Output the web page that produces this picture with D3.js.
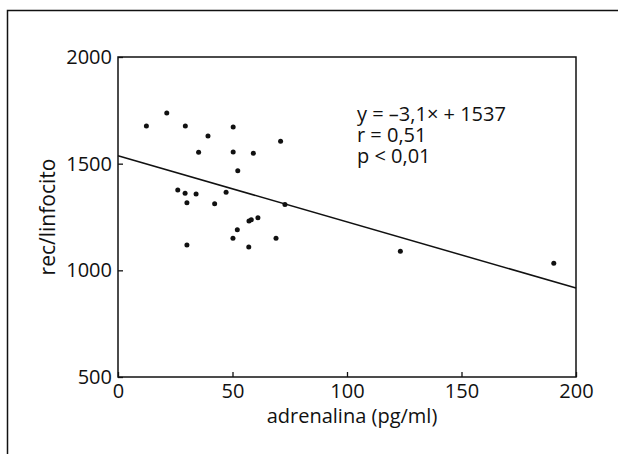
<!DOCTYPE html>
<html>
<head>
<meta charset="utf-8">
<script src="https://cdn.jsdelivr.net/npm/d3@7"></script>
<style>
  html, body { margin: 0; padding: 0; background: #fff; }
  svg { display: block; }
  text { font-family: "Open Sans", "DejaVu Sans", sans-serif; fill: #111; }
</style>
</head>
<body>
<svg id="chart" width="618" height="454"></svg>
<script>
// Data
const adrenalina = [12.4, 21.3, 29.4, 39.3, 50.3, 35.2, 50.3, 59.1, 71.0, 52.3,
                    26.1, 29.3, 34.1, 47.2, 30.1, 42.2, 72.9, 57.2, 58.2, 61.1,
                    52.1, 50.2, 57.1, 69.0, 30.1, 123.3, 190.3];
const recLinfocito = [1677, 1737, 1677, 1630, 1672, 1553, 1555, 1549, 1605, 1467,
                      1377, 1361, 1358, 1366, 1317, 1312, 1309, 1231, 1237, 1247,
                      1190, 1150, 1109, 1150, 1119, 1089, 1033];
const xTicks = [0, 50, 100, 150, 200];
const yTicks = [500, 1000, 1500, 2000];
const slope = -3.1;
const intercept = 1537;
const annotation = ["y = \u20133,1\u00d7 + 1537", "r = 0,51", "p < 0,01"];
const xLabel = "adrenalina (pg/ml)";
const yLabel = "rec/linfocito";

const svg = d3.select("#chart");
const plot = { left: 118, right: 576, top: 57, bottom: 377 };

// outer frame
svg.append("rect")
  .attr("x", 7.5).attr("y", 10.5)
  .attr("width", 640).attr("height", 480)
  .attr("fill", "none").attr("stroke", "#111").attr("stroke-width", 1.5);

const x = d3.scaleLinear().domain([0, 200]).range([plot.left, plot.right]);
const y = d3.scaleLinear().domain([500, 2000]).range([plot.bottom, plot.top]);

// plot box
svg.append("rect")
  .attr("x", plot.left).attr("y", plot.top)
  .attr("width", plot.right - plot.left).attr("height", plot.bottom - plot.top)
  .attr("fill", "none").attr("stroke", "#111").attr("stroke-width", 1.5);

// x axis (ticks inward)
const xAxis = svg.append("g")
  .attr("transform", `translate(0,${plot.bottom})`)
  .call(d3.axisBottom(x).tickValues(xTicks).tickSizeInner(-5).tickSizeOuter(0).tickPadding(8).tickFormat(d3.format("d")));
xAxis.select(".domain").remove();
xAxis.selectAll("line").attr("stroke", "#111").attr("stroke-width", 1.3);
xAxis.selectAll("text").attr("font-size", 20).attr("fill", "#111")
  .attr("dy", "0.71em").attr("y", 7);

// y axis (ticks inward)
const yAxis = svg.append("g")
  .attr("transform", `translate(${plot.left},0)`)
  .call(d3.axisLeft(y).tickValues(yTicks).tickSizeInner(-5).tickSizeOuter(0).tickPadding(8).tickFormat(d3.format("d")));
yAxis.select(".domain").remove();
yAxis.selectAll("line").attr("stroke", "#111").attr("stroke-width", 1.3);
yAxis.selectAll("text").attr("font-size", 20).attr("fill", "#111").attr("x", -6);

// regression line
svg.append("line")
  .attr("x1", x(0)).attr("y1", y(intercept))
  .attr("x2", x(200)).attr("y2", y(intercept + slope * 200))
  .attr("stroke", "#111").attr("stroke-width", 1.5);

// points
svg.append("g").selectAll("circle")
  .data(adrenalina.map((d, i) => [d, recLinfocito[i]]))
  .join("circle")
  .attr("cx", d => x(d[0])).attr("cy", d => y(d[1]))
  .attr("r", 2.5).attr("fill", "#111");

// annotation (one text block, three lines)
const ann = svg.append("text")
  .attr("x", 357).attr("y", 121)
  .attr("font-size", 20);
ann.selectAll("tspan")
  .data(annotation)
  .join("tspan")
  .attr("x", 357)
  .attr("dy", (d, i) => i === 0 ? 0 : 21)
  .text(d => d);

// axis labels
svg.append("text")
  .attr("x", 352).attr("y", 423)
  .attr("text-anchor", "middle").attr("font-size", 20)
  .text(xLabel);

svg.append("text")
  .attr("transform", `translate(55,${(plot.top + plot.bottom) / 2}) rotate(-90)`)
  .attr("text-anchor", "middle").attr("font-size", 21)
  .text(yLabel);
</script>
</body>
</html>
